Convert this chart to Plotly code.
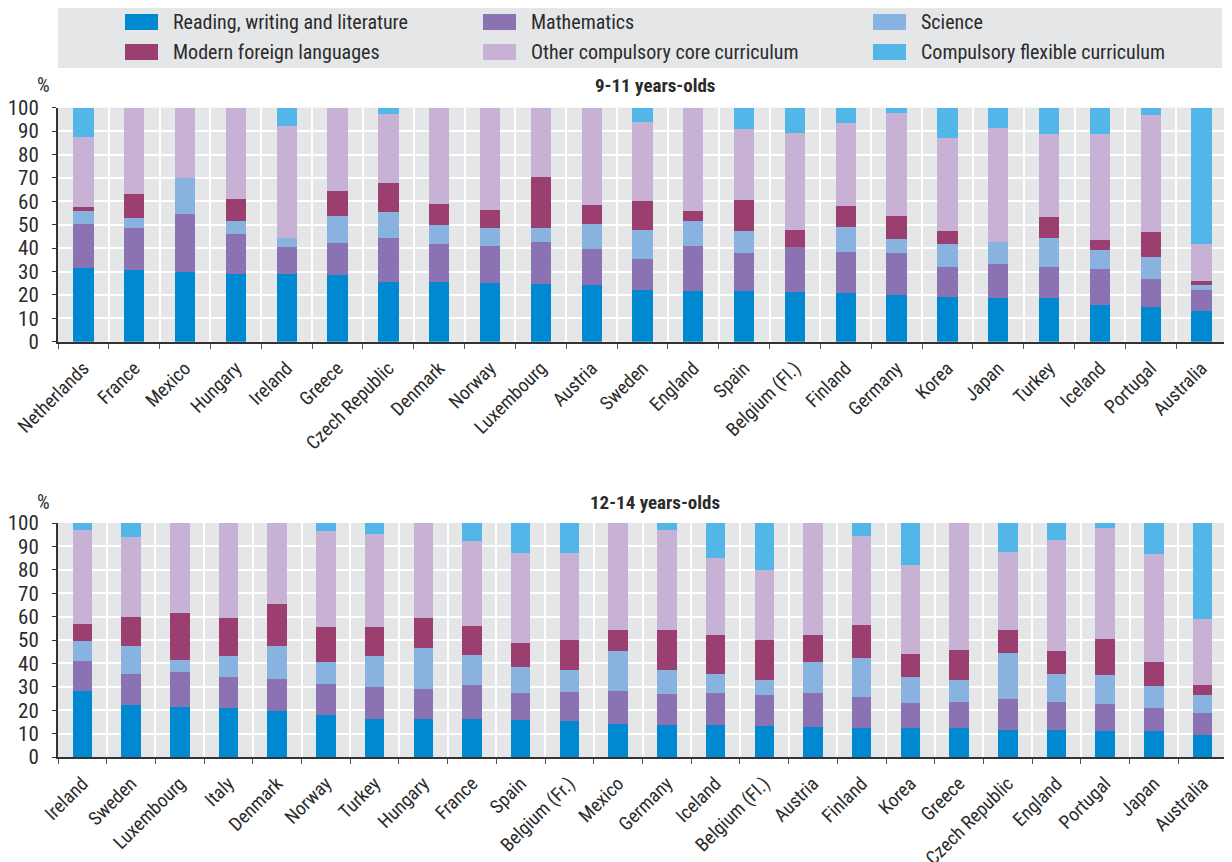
import plotly.graph_objects as go

SUBJECTS = [
    'Reading, writing and literature',
    'Mathematics',
    'Science',
    'Modern foreign languages',
    'Other compulsory core curriculum',
    'Compulsory flexible curriculum',
]
COLORS = ['#0089d0', '#8a72b3', '#88b2e0', '#9b3f70', '#c7b1d5', '#52b7e8']

# 9-11 years-olds
COUNTRIES_9_11 = [
    'Netherlands', 'France', 'Mexico', 'Hungary', 'Ireland', 'Greece',
    'Czech Republic', 'Denmark', 'Norway', 'Luxembourg', 'Austria', 'Sweden',
    'England', 'Spain', 'Belgium (Fl.)', 'Finland', 'Germany', 'Korea',
    'Japan', 'Turkey', 'Iceland', 'Portugal', 'Australia',
]
READING_9_11 = [31.5, 30.6, 29.8, 28.9, 28.9, 28.5, 25.5, 25.5, 25.1, 24.6, 24.2, 22.1,
                21.7, 21.7, 21.2, 20.8, 19.9, 19.1, 18.7, 18.7, 15.7, 14.8, 13.1]
MATHS_9_11 = [18.8, 18.0, 24.8, 17.1, 11.6, 13.7, 18.8, 16.2, 15.8, 18.0, 15.4, 13.2,
              19.2, 16.2, 19.3, 17.5, 18.0, 12.8, 14.5, 13.2, 15.4, 12.0, 9.0]
SCIENCE_9_11 = [5.5, 4.2, 15.3, 5.6, 3.8, 11.5, 11.1, 8.2, 7.7, 6.0, 10.7, 12.4,
                10.7, 9.4, 0.0, 10.7, 6.0, 9.8, 9.4, 12.4, 8.1, 9.4, 2.1]
LANGUAGES_9_11 = [1.7, 10.3, 0.0, 9.4, 0.0, 10.7, 12.4, 8.9, 7.7, 21.8, 8.1, 12.4,
                  4.2, 13.2, 7.2, 9.0, 9.8, 5.6, 0.0, 9.0, 4.2, 10.7, 1.7]
OTHER_CORE_9_11 = [30.0, 36.9, 30.1, 39.0, 47.9, 35.6, 29.5, 41.2, 43.7, 29.6, 41.6, 33.8,
                   44.2, 30.4, 41.5, 35.4, 44.0, 39.7, 48.7, 35.4, 45.3, 50.0, 15.8]
FLEXIBLE_9_11 = [12.5, 0.0, 0.0, 0.0, 7.8, 0.0, 2.7, 0.0, 0.0, 0.0, 0.0, 6.1,
                 0.0, 9.1, 10.8, 6.6, 2.3, 13.0, 8.7, 11.3, 11.3, 3.1, 58.3]

# 12-14 years-olds
COUNTRIES_12_14 = [
    'Ireland', 'Sweden', 'Luxembourg', 'Italy', 'Denmark', 'Norway', 'Turkey',
    'Hungary', 'France', 'Spain', 'Belgium (Fr.)', 'Mexico', 'Germany', 'Iceland',
    'Belgium (Fl.)', 'Austria', 'Finland', 'Korea', 'Greece', 'Czech Republic',
    'England', 'Portugal', 'Japan', 'Australia',
]
READING_12_14 = [28.1, 22.1, 21.3, 20.8, 19.5, 17.8, 16.1, 16.1, 16.1, 15.7, 15.3, 14.0,
                 13.6, 13.6, 13.1, 12.7, 12.3, 12.3, 12.3, 11.4, 11.4, 11.0, 11.0, 9.3]
MATHS_12_14 = [12.8, 13.3, 14.9, 13.3, 13.7, 13.3, 13.7, 12.9, 14.6, 11.5, 12.4, 14.1,
               13.2, 13.6, 13.3, 14.5, 13.2, 10.7, 11.1, 13.3, 12.0, 11.5, 9.8, 9.4]
SCIENCE_12_14 = [8.6, 12.0, 5.2, 9.0, 14.2, 9.4, 13.3, 17.5, 12.8, 11.2, 9.4, 17.1,
                 10.3, 8.2, 6.4, 13.3, 16.7, 11.1, 9.4, 19.7, 12.0, 12.4, 9.4, 7.7]
LANGUAGES_12_14 = [7.3, 12.4, 20.1, 16.2, 17.9, 15.0, 12.4, 12.8, 12.4, 10.2, 12.8, 9.0,
                   17.1, 16.7, 17.1, 11.6, 14.1, 9.8, 12.8, 9.8, 9.8, 15.5, 10.3, 4.3]
OTHER_CORE_12_14 = [40.2, 34.2, 38.5, 40.7, 34.7, 41.1, 39.8, 40.7, 36.4, 38.6, 37.3, 45.8,
                    42.8, 32.9, 30.0, 47.9, 38.1, 38.1, 54.4, 33.4, 47.5, 47.5, 46.2, 28.2]
FLEXIBLE_12_14 = [3.0, 6.0, 0.0, 0.0, 0.0, 3.4, 4.7, 0.0, 7.7, 12.8, 12.8, 0.0,
                  3.0, 15.0, 20.1, 0.0, 5.6, 18.0, 0.0, 12.4, 7.3, 2.1, 13.3, 41.1]

FONT = 'Roboto Condensed, Liberation Sans Narrow, DejaVu Sans Condensed, sans-serif'
PLOT_BG = '#e5e6e8'
TEXT = '#2b2b2b'

W, H = 1232, 862
PAGE_PAD = 8  # the page body margin pushes the figure right/down


def px_x(x):
    return (x - PAGE_PAD) / W


def px_y(y):
    return 1 - (y - PAGE_PAD) / H


fig = go.Figure()

panels = [
    ('x', 'y', COUNTRIES_9_11,
     [READING_9_11, MATHS_9_11, SCIENCE_9_11, LANGUAGES_9_11, OTHER_CORE_9_11, FLEXIBLE_9_11]),
    ('x2', 'y2', COUNTRIES_12_14,
     [READING_12_14, MATHS_12_14, SCIENCE_12_14, LANGUAGES_12_14, OTHER_CORE_12_14, FLEXIBLE_12_14]),
]
for xa, ya, countries, series in panels:
    for name, color, values in zip(SUBJECTS, COLORS, series):
        fig.add_trace(go.Bar(
            x=countries, y=values, name=name,
            marker=dict(color=color, line=dict(width=0)),
            xaxis=xa, yaxis=ya, showlegend=False,
        ))

axis_x = dict(
    type='category', tickson='boundaries', showgrid=True, gridcolor='white', gridwidth=2,
    ticks='outside', ticklen=5, tickcolor='#555555', tickwidth=1,
    showline=True, linecolor='#333333', linewidth=2, tickangle=-45,
    ticklabelstandoff=6,
    tickfont=dict(family=FONT, size=19, color=TEXT), automargin=False,
)
axis_y = dict(
    range=[0, 100], dtick=10, showgrid=True, gridcolor='white', gridwidth=2,
    ticks='outside', ticklen=4, tickcolor='#333333', showline=True,
    linecolor='#333333', linewidth=2, zeroline=False, ticklabelstandoff=9,
    tickfont=dict(family=FONT, size=21, color=TEXT), automargin=False,
)

x_dom = [px_x(58), px_x(1227)]
fig.update_layout(
    width=W, height=H,
    margin=dict(l=0, r=0, t=0, b=0),
    barmode='stack', bargap=0.6,
    plot_bgcolor=PLOT_BG, paper_bgcolor='white',
    font=dict(family=FONT, color=TEXT),
    xaxis=dict(domain=x_dom, anchor='y', **axis_x),
    yaxis=dict(domain=[px_y(341.7), px_y(107.7)], anchor='x', **axis_y),
    xaxis2=dict(domain=x_dom, anchor='y2', **axis_x),
    yaxis2=dict(domain=[px_y(757), px_y(523)], anchor='x2', **axis_y),
)

# panel titles and % labels
for title, y_mid in [('9-11 years-olds', 85), ('12-14 years-olds', 502)]:
    fig.add_annotation(x=px_x(655), y=px_y(y_mid), xref='paper', yref='paper',
                       text=f'<b>{title}</b>', showarrow=False, yanchor='middle',
                       font=dict(family=FONT, size=19, color=TEXT))
    fig.add_annotation(x=px_x(35), y=px_y(y_mid), xref='paper', yref='paper',
                       text='%', showarrow=False, yanchor='middle',
                       font=dict(family=FONT, size=20, color=TEXT))

# legend drawn as a grey band with swatches
fig.add_shape(type='rect', xref='paper', yref='paper',
              x0=px_x(58), x1=px_x(1222), y0=px_y(68), y1=px_y(7),
              fillcolor=PLOT_BG, line=dict(width=0), layer='below')
col_x = [125, 483, 873]
row_y = [22, 52]
for i, (name, color) in enumerate(zip(SUBJECTS, COLORS)):
    cx = col_x[i % 3]
    cy = row_y[i // 3]
    fig.add_shape(type='rect', xref='paper', yref='paper',
                  x0=px_x(cx), x1=px_x(cx + 33), y0=px_y(cy + 8), y1=px_y(cy - 8),
                  fillcolor=color, line=dict(width=0))
    fig.add_annotation(x=px_x(cx + 46), y=px_y(cy), xref='paper', yref='paper',
                       text=name, showarrow=False, xanchor='left', yanchor='middle',
                       font=dict(family=FONT, size=20, color=TEXT))

fig.write_html('out.html')
